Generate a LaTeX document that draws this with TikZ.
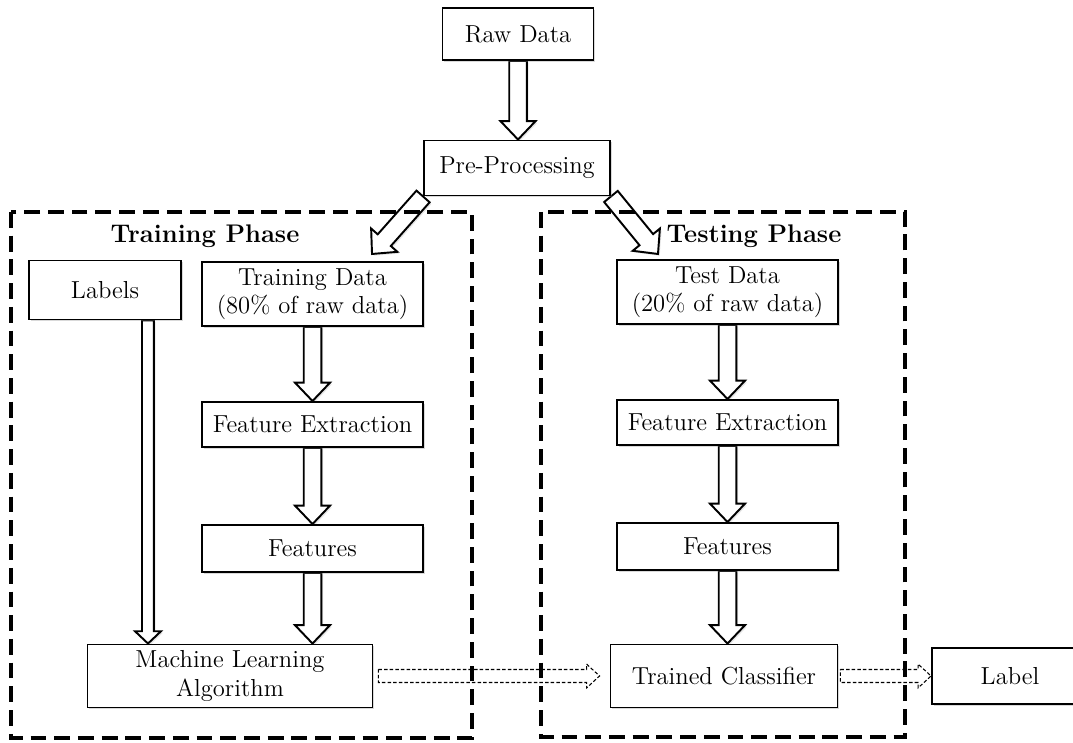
\documentclass[tikz,border=0pt]{standalone}
\usetikzlibrary{calc,shadows,backgrounds}

\tikzset{
  stepbox/.style={draw, line width=1.1pt, fill=white, align=center, inner sep=2pt,
    font=\fontsize{14}{16}\selectfont,
    drop shadow={shadow xshift=1pt, shadow yshift=-1pt, opacity=.3}},
  phasebox/.style={draw, line width=2.3pt, dash pattern=on 9pt off 4.5pt},
  phasetitle/.style={font=\bfseries\fontsize{14.5}{16}\selectfont},
  fatarrow/.style={draw, line width=1.1pt, fill=white,
    drop shadow={shadow xshift=1pt, shadow yshift=-1pt, opacity=.2}},
  dasharrow/.style={draw, line width=.6pt, dash pattern=on 2pt off 1.2pt, fill=white}
}

% hollow block arrow: [style]{from}{to}{shaft half width}{head half width}{head length}
\newcommand{\hollowarrow}[6][fatarrow]{%
  \path[#1] let \p1=($(#3)-(#2)$), \n1={atan2(\y1,\x1)}, \n2={veclen(\x1,\y1)} in
    [shift={(#2)}, rotate=\n1]
    (0pt,#4) -- ({\n2*1pt-#6},#4) -- ({\n2*1pt-#6},#5) -- ({\n2*1pt},0pt)
    -- ({\n2*1pt-#6},-#5) -- ({\n2*1pt-#6},-#4) -- (0pt,-#4) -- cycle;}

\begin{document}
\begin{tikzpicture}[x=0.02cm, y=-0.02cm]
  \useasboundingbox (0,0) rectangle (1073,743);

  % phases
  \draw[phasebox] (11,212) rectangle (472,738);
  \draw[phasebox] (541,212) rectangle (905,737);
  \node[phasetitle] (traintitle) at (205,236) {Training Phase};
  \node[phasetitle] (testtitle) at (754,236) {Testing Phase};

  \node[stepbox, minimum width=3.02cm, minimum height=1.04cm] (raw) at (518,34) {Raw Data};
  \node[stepbox, minimum width=3.72cm, minimum height=1.10cm] (pre) at (517,168) {Pre-Processing};

  \node[stepbox, minimum width=3.04cm, minimum height=1.18cm] (labels) at (105,290) {Labels};
  \node[stepbox, minimum width=4.42cm, minimum height=1.28cm] (traindata) at (312.5,294) {Training Data\\(80\% of raw data)};
  \node[stepbox, minimum width=4.42cm, minimum height=0.90cm] (trainfe) at (312.5,424.5) {Feature Extraction};
  \node[stepbox, minimum width=4.42cm, minimum height=0.94cm] (trainfeat) at (312.5,548.5) {Features};
  \node[stepbox, minimum width=5.70cm, minimum height=1.26cm] (mla) at (230,676) {Machine Learning\\Algorithm};

  \node[stepbox, minimum width=4.42cm, minimum height=1.28cm] (testdata) at (727.5,292) {Test Data\\(20\% of raw data)};
  \node[stepbox, minimum width=4.42cm, minimum height=0.90cm] (testfe) at (727.5,422.5) {Feature Extraction};
  \node[stepbox, minimum width=4.42cm, minimum height=0.94cm] (testfeat) at (727.5,546.5) {Features};
  \node[stepbox, minimum width=4.54cm, minimum height=1.26cm] (classifier) at (724,676) {Trained Classifier};
  \node[stepbox, minimum width=3.12cm, minimum height=1.12cm] (label) at (1010,676) {Label};

  \coordinate (ltip) at (372,254);
  \coordinate (rtip) at (658,254);
  \coordinate (labfoot) at ([xshift=0.86cm]labels.south);

  \begin{pgfonlayer}{background}
    \hollowarrow{raw.south}{raw.south |- pre.north}{5pt}{10pt}{10.5pt}
    \hollowarrow{pre.south west}{ltip}{5pt}{10pt}{10.5pt}
    \hollowarrow{pre.south east}{rtip}{5pt}{10pt}{10.5pt}
    \hollowarrow{labfoot}{labfoot |- mla.north}{3.4pt}{7.4pt}{7pt}
    \hollowarrow{traindata.south}{trainfe.north}{5pt}{10pt}{10.5pt}
    \hollowarrow{trainfe.south}{trainfeat.north}{5pt}{10pt}{10.5pt}
    \hollowarrow{trainfeat.south}{trainfeat.south |- mla.north}{5pt}{10pt}{10.5pt}
    \hollowarrow{testdata.south}{testfe.north}{5pt}{10pt}{10.5pt}
    \hollowarrow{testfe.south}{testfeat.north}{5pt}{10pt}{10.5pt}
    \hollowarrow{testfeat.south}{testfeat.south |- classifier.north}{5pt}{10pt}{10.5pt}
    \hollowarrow[dasharrow]{[xshift=0.1cm]mla.east}{[xshift=-0.2cm]classifier.west}{3.7pt}{6.8pt}{7.4pt}
    \hollowarrow[dasharrow]{[xshift=0.04cm]classifier.east}{label.west}{3.7pt}{6.8pt}{7.4pt}
  \end{pgfonlayer}
\end{tikzpicture}
\end{document}
